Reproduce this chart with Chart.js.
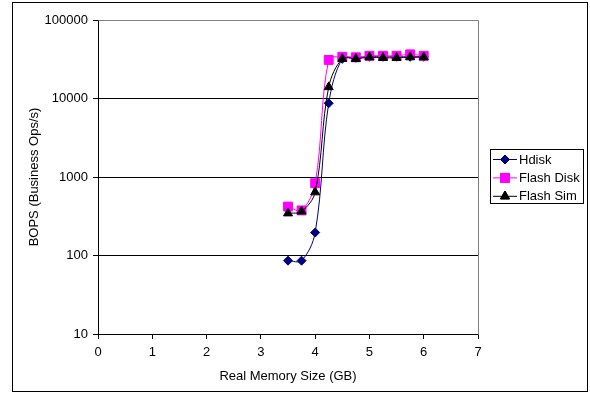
<!DOCTYPE html>
<html>
<head>
<meta charset="utf-8">
<script src="https://cdn.jsdelivr.net/npm/chart.js@4/dist/chart.umd.min.js"></script>
<style>
  html, body { margin: 0; padding: 0; background: #fff; }
  #wrap { width: 590px; height: 394px; }
</style>
</head>
<body>
<div id="wrap"><canvas id="memChart" width="590" height="394"></canvas></div>
<script>
// Real memory size (GB) on the x axis
const memSizes = [3.5, 3.75, 4, 4.25, 4.5, 4.75, 5, 5.25, 5.5, 5.75, 6];
// BOPS per series
const hdisk = [86, 86, 196, 8700, 32000, 33000, 34000, 34000, 34000, 34000, 34000];
const flashDisk = [420, 375, 835, 31000, 34000, 33500, 35000, 35000, 35000, 36500, 35000];
const flashSim = [345, 365, 640, 14000, 32000, 32000, 33600, 33000, 33000, 33600, 33600];

const seriesNames = ["Hdisk", "Flash Disk", "Flash Sim"];
const yTicks = [10, 100, 1000, 10000, 100000];
const xMin = 0, xMax = 7;

Chart.defaults.font.family = "'Liberation Sans', Arial, sans-serif";
Chart.defaults.font.size = 13;
Chart.defaults.color = "#000";

function points(ys) {
  return memSizes.map((x, i) => ({ x, y: ys[i] }));
}

// white page, outer frame, plot frame (top + right)
const framePlugin = {
  id: "frame",
  beforeDraw(chart) {
    const { ctx, chartArea } = chart;
    ctx.save();
    ctx.fillStyle = "#fff";
    ctx.fillRect(0, 0, chart.width, chart.height);
    ctx.strokeStyle = "#000";
    ctx.lineWidth = 1;
    ctx.strokeRect(12.5, 2.5, 575, 389);
    ctx.restore();
  },
  afterDatasetsDraw(chart) {
    const { ctx, chartArea } = chart;
    ctx.save();
    ctx.strokeStyle = "#808080";
    ctx.lineWidth = 1;
    ctx.beginPath();
    ctx.moveTo(Math.round(chartArea.left) + 0.5, Math.round(chartArea.top) + 0.5);
    ctx.lineTo(Math.round(chartArea.right) + 0.5, Math.round(chartArea.top) + 0.5);
    ctx.lineTo(Math.round(chartArea.right) + 0.5, Math.round(chartArea.bottom) + 0.5);
    ctx.stroke();
    ctx.restore();
  },
};

// excel-like legend: line with marker, boxed
const boxLegend = {
  id: "boxLegend",
  afterDraw(chart) {
    const { ctx } = chart;
    const bx = 490.5, by = 149.5, bw = 93, bh = 54;
    ctx.save();
    ctx.strokeStyle = "#000";
    ctx.lineWidth = 1;
    ctx.strokeRect(bx, by, bw, bh);
    ctx.font = "13px 'Liberation Sans', Arial, sans-serif";
    ctx.textBaseline = "middle";
    ctx.fillStyle = "#000";
    chart.data.datasets.forEach((ds, i) => {
      const y = 159 + i * 18.4;
      ctx.strokeStyle = ds.borderColor;
      ctx.beginPath();
      ctx.moveTo(493, y + 0.5);
      ctx.lineTo(517, y + 0.5);
      ctx.stroke();
      Chart.helpers.drawPoint(ctx, {
        pointStyle: ds.pointStyle,
        radius: ds.pointRadius,
        borderWidth: 1,
      }, 505, y + 0.5);
      ctx.fillStyle = ds.pointBackgroundColor;
      ctx.strokeStyle = ds.pointBorderColor;
      ctx.fill();
      ctx.stroke();
      ctx.fillStyle = "#000";
      ctx.fillText(ds.label, 519, y + 1);
    });
    ctx.restore();
  },
};

const ctx = document.getElementById("memChart").getContext("2d");
new Chart(ctx, {
  type: "line",
  data: {
    datasets: [
      {
        label: seriesNames[0],
        data: points(hdisk),
        borderColor: "#000080",
        pointBackgroundColor: "#000080",
        pointBorderColor: "#000080",
        pointStyle: "rectRot",
        pointRadius: 4.5,
        order: 3,
      },
      {
        label: seriesNames[1],
        data: points(flashDisk),
        borderColor: "#ff00ff",
        pointBackgroundColor: "#ff00ff",
        pointBorderColor: "#ff00ff",
        pointStyle: "rect",
        pointRadius: 6.3,
        order: 2,
      },
      {
        label: seriesNames[2],
        data: points(flashSim),
        borderColor: "#000",
        pointBackgroundColor: "#000",
        pointBorderColor: "#000",
        pointStyle: "triangle",
        pointRadius: 5.2,
        order: 1,
      },
    ],
  },
  options: {
    responsive: false,
    animation: false,
    elements: {
      line: { borderWidth: 1, tension: 0.35, fill: false },
      point: { borderWidth: 1, hoverRadius: 5 },
    },
    layout: { padding: { left: 0, top: 20, right: 112, bottom: 0 } },
    plugins: {
      legend: { display: false },
      tooltip: { enabled: false },
    },
    scales: {
      x: {
        type: "linear",
        min: xMin,
        max: xMax,
        afterFit: (s) => { s.height = 60; },
        ticks: { stepSize: 1, padding: 6, color: "#000" },
        grid: { drawOnChartArea: false, tickLength: 5, tickColor: "#000" },
        border: { color: "#000" },
        title: { display: true, text: "Real Memory Size (GB)", padding: { top: 0, bottom: 10 } },
      },
      y: {
        type: "logarithmic",
        min: yTicks[0],
        max: yTicks[yTicks.length - 1],
        afterFit: (s) => { s.width = 98; },
        afterBuildTicks: (s) => { s.ticks = yTicks.map((v) => ({ value: v })); },
        ticks: { padding: 5, color: "#000", callback: (v) => String(v) },
        grid: {
          tickLength: 5,
          tickColor: "#000",
          color: (c) => (c.tick && c.tick.value === yTicks[yTicks.length - 1] ? "#808080" : "#000"),
        },
        border: { color: "#000" },
        title: { display: true, text: "BOPS (Business Ops/s)", padding: { top: 27, bottom: 0 } },
      },
    },
  },
  plugins: [framePlugin, boxLegend],
});
</script>
</body>
</html>
